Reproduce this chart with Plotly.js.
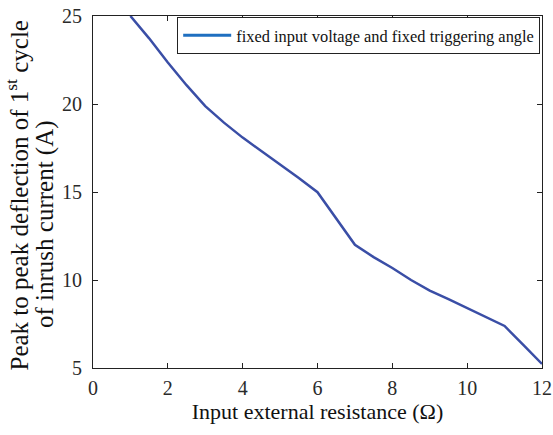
<!DOCTYPE html>
<html>
<head>
<meta charset="utf-8">
<script src="https://cdn.plot.ly/plotly-3.0.1.min.js"></script>
<style>
  html, body { margin: 0; padding: 0; background: #fff; }
  #chart { width: 553px; height: 435px; }
</style>
</head>
<body>
<div id="chart"></div>
<script>
// Input external resistance (ohm)
const resistance = [1, 1.5, 2, 2.5, 3, 3.5, 4, 4.5, 5, 5.5, 6, 6.5, 7, 7.5, 8, 8.5, 9, 9.5, 10, 10.5, 11, 11.5, 12];
// Peak-to-peak deflection of the first inrush-current cycle (A)
const peakToPeak = [25.0, 23.73, 22.36, 21.07, 19.88, 18.94, 18.09, 17.33, 16.55, 15.8, 14.99, 13.53, 12.0, 11.3, 10.68, 10.0, 9.4, 8.91, 8.4, 7.92, 7.39, 6.31, 5.23];

const xTicks = [0, 2, 4, 6, 8, 10, 12];
const yTicks = [5, 10, 15, 20, 25];
const seriesName = 'fixed input voltage and fixed triggering angle';
const yTitleLines = ['Peak to peak deflection of 1<sup>st</sup> cycle', 'of inrush current (A)'];

const serif = 'Liberation Serif, Times New Roman, serif';

const traces = [
  {
    x: resistance,
    y: peakToPeak,
    type: 'scatter',
    mode: 'lines',
    line: { color: '#3a4ea6', width: 2.5 },
    showlegend: false,
    hoverinfo: 'x+y'
  },
  {
    // legend entry
    x: [null],
    y: [null],
    type: 'scatter',
    mode: 'lines',
    name: seriesName,
    line: { color: '#1f6fc0', width: 3 },
    showlegend: true
  }
];

// y-axis title drawn as two rotated lines so each line can be placed on its own
const yTitleFont = { family: serif, size: 25, color: '#111111' };
const annotations = [
  { text: yTitleLines[0], xref: 'paper', yref: 'paper', x: 0, y: 0.49, xshift: -76,
    xanchor: 'center', yanchor: 'middle', textangle: -90, showarrow: false, font: yTitleFont },
  { text: yTitleLines[1], xref: 'paper', yref: 'paper', x: 0, y: 0.409, xshift: -48,
    xanchor: 'center', yanchor: 'middle', textangle: -90, showarrow: false, font: yTitleFont }
];

const layout = {
  width: 553,
  height: 435,
  margin: { l: 93, r: 11, t: 16, b: 67 },
  paper_bgcolor: '#ffffff',
  plot_bgcolor: '#ffffff',
  font: { family: serif, color: '#222222', size: 19 },
  showlegend: true,
  legend: {
    x: 0.1875,
    y: 0.997,
    xanchor: 'left',
    yanchor: 'top',
    bgcolor: '#ffffff',
    bordercolor: '#222222',
    borderwidth: 1,
    itemwidth: 48,
    font: { family: serif, size: 16.4, color: '#111111' }
  },
  annotations: annotations,
  xaxis: {
    range: [0, 12],
    tickvals: xTicks,
    ticktext: xTicks.map(String),
    ticks: 'inside',
    ticklen: 5,
    tickcolor: '#222222',
    showline: true,
    linecolor: '#222222',
    linewidth: 1,
    mirror: 'ticks',
    showgrid: false,
    zeroline: false,
    ticklabelstandoff: 2,
    tickfont: { family: serif, size: 20, color: '#2a2a2a' },
    title: {
      text: 'Input external resistance (Ω)',
      font: { family: serif, size: 22, color: '#111111' },
      standoff: 0
    }
  },
  yaxis: {
    range: [5, 25],
    tickvals: yTicks,
    ticktext: yTicks.map(String),
    ticks: 'inside',
    ticklen: 5,
    tickcolor: '#222222',
    showline: true,
    linecolor: '#222222',
    linewidth: 1,
    mirror: 'ticks',
    showgrid: false,
    zeroline: false,
    ticklabelstandoff: 6,
    tickfont: { family: serif, size: 20, color: '#2a2a2a' }
  }
};

Plotly.newPlot('chart', traces, layout, { displayModeBar: false, staticPlot: true });
</script>
</body>
</html>
